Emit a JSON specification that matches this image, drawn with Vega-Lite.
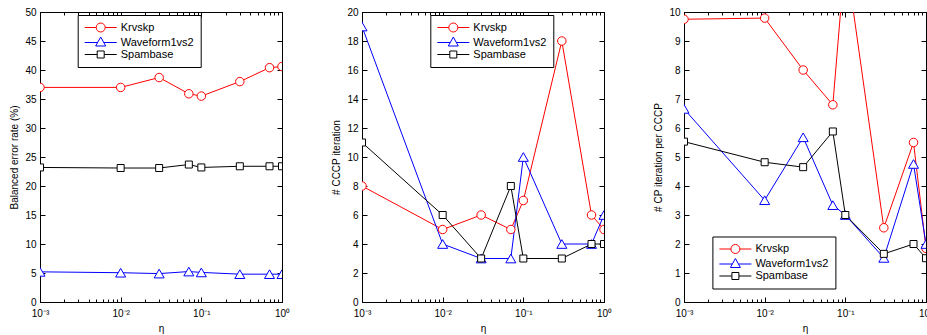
{
  "$schema": "https://vega.github.io/schema/vega-lite/v6.json",
  "padding": {"left": 9, "top": 6, "right": 0, "bottom": 0},
  "background": "white",
  "config": {
    "font": "Liberation Sans",
    "view": {"stroke": "black", "strokeWidth": 1},
    "axis": {"domainColor": "black", "tickColor": "black", "labelColor": "black", "titleColor": "black", "labelFont": "Liberation Sans", "titleFont": "Liberation Sans", "labelFontSize": 10, "titleFontSize": 10, "titleFontWeight": "normal", "grid": false, "tickWidth": 1, "domainWidth": 1, "labelOverlap": false, "labelFlush": false},
    "legend": {"title": null, "orient": "none", "strokeColor": "black", "fillColor": "white", "padding": 7, "symbolSize": 100, "symbolStrokeWidth": 1, "labelOffset": 25, "rowPadding": 0, "labelFontSize": 11, "labelFont": "Liberation Sans", "labelColor": "black", "symbolOpacity": 1}
  },
  "datasets": {
    "p1": [
      {"eta": 0.001, "series": "Krvskp", "value": 37.0},
      {"eta": 0.01, "series": "Krvskp", "value": 37.0},
      {"eta": 0.03, "series": "Krvskp", "value": 38.7},
      {"eta": 0.07, "series": "Krvskp", "value": 35.9},
      {"eta": 0.1, "series": "Krvskp", "value": 35.5},
      {"eta": 0.3, "series": "Krvskp", "value": 38.0},
      {"eta": 0.7, "series": "Krvskp", "value": 40.4},
      {"eta": 1, "series": "Krvskp", "value": 40.6},
      {"eta": 0.001, "series": "Waveform1vs2", "value": 5.2},
      {"eta": 0.01, "series": "Waveform1vs2", "value": 5.05},
      {"eta": 0.03, "series": "Waveform1vs2", "value": 4.9},
      {"eta": 0.07, "series": "Waveform1vs2", "value": 5.25},
      {"eta": 0.1, "series": "Waveform1vs2", "value": 5.1},
      {"eta": 0.3, "series": "Waveform1vs2", "value": 4.8},
      {"eta": 0.7, "series": "Waveform1vs2", "value": 4.8},
      {"eta": 1, "series": "Waveform1vs2", "value": 4.8},
      {"eta": 0.001, "series": "Spambase", "value": 23.2},
      {"eta": 0.01, "series": "Spambase", "value": 23.1},
      {"eta": 0.03, "series": "Spambase", "value": 23.1},
      {"eta": 0.07, "series": "Spambase", "value": 23.7},
      {"eta": 0.1, "series": "Spambase", "value": 23.2},
      {"eta": 0.3, "series": "Spambase", "value": 23.4},
      {"eta": 0.7, "series": "Spambase", "value": 23.4},
      {"eta": 1, "series": "Spambase", "value": 23.4}
    ],
    "p2": [
      {"eta": 0.001, "series": "Krvskp", "value": 8},
      {"eta": 0.01, "series": "Krvskp", "value": 5},
      {"eta": 0.03, "series": "Krvskp", "value": 6},
      {"eta": 0.07, "series": "Krvskp", "value": 5},
      {"eta": 0.1, "series": "Krvskp", "value": 7},
      {"eta": 0.3, "series": "Krvskp", "value": 18},
      {"eta": 0.7, "series": "Krvskp", "value": 6},
      {"eta": 1, "series": "Krvskp", "value": 5},
      {"eta": 0.001, "series": "Waveform1vs2", "value": 19},
      {"eta": 0.01, "series": "Waveform1vs2", "value": 4},
      {"eta": 0.03, "series": "Waveform1vs2", "value": 3},
      {"eta": 0.07, "series": "Waveform1vs2", "value": 3},
      {"eta": 0.1, "series": "Waveform1vs2", "value": 10},
      {"eta": 0.3, "series": "Waveform1vs2", "value": 4},
      {"eta": 0.7, "series": "Waveform1vs2", "value": 4},
      {"eta": 1, "series": "Waveform1vs2", "value": 6},
      {"eta": 0.001, "series": "Spambase", "value": 11},
      {"eta": 0.01, "series": "Spambase", "value": 6},
      {"eta": 0.03, "series": "Spambase", "value": 3},
      {"eta": 0.07, "series": "Spambase", "value": 8},
      {"eta": 0.1, "series": "Spambase", "value": 3},
      {"eta": 0.3, "series": "Spambase", "value": 3},
      {"eta": 0.7, "series": "Spambase", "value": 4},
      {"eta": 1, "series": "Spambase", "value": 4}
    ],
    "p3": [
      {"eta": 0.001, "series": "Krvskp", "value": 9.75},
      {"eta": 0.01, "series": "Krvskp", "value": 9.79},
      {"eta": 0.03, "series": "Krvskp", "value": 8.0},
      {"eta": 0.07, "series": "Krvskp", "value": 6.8},
      {"eta": 0.1, "series": "Krvskp", "value": 12},
      {"eta": 0.3, "series": "Krvskp", "value": 2.56},
      {"eta": 0.7, "series": "Krvskp", "value": 5.5},
      {"eta": 1, "series": "Krvskp", "value": 1.85},
      {"eta": 0.001, "series": "Waveform1vs2", "value": 6.66},
      {"eta": 0.01, "series": "Waveform1vs2", "value": 3.51},
      {"eta": 0.03, "series": "Waveform1vs2", "value": 5.68},
      {"eta": 0.07, "series": "Waveform1vs2", "value": 3.34},
      {"eta": 0.1, "series": "Waveform1vs2", "value": 3.0},
      {"eta": 0.3, "series": "Waveform1vs2", "value": 1.52},
      {"eta": 0.7, "series": "Waveform1vs2", "value": 4.76},
      {"eta": 1, "series": "Waveform1vs2", "value": 2.0},
      {"eta": 0.001, "series": "Spambase", "value": 5.53},
      {"eta": 0.01, "series": "Spambase", "value": 4.82},
      {"eta": 0.03, "series": "Spambase", "value": 4.65},
      {"eta": 0.07, "series": "Spambase", "value": 5.88},
      {"eta": 0.1, "series": "Spambase", "value": 3.0},
      {"eta": 0.3, "series": "Spambase", "value": 1.66},
      {"eta": 0.7, "series": "Spambase", "value": 2.0},
      {"eta": 1, "series": "Spambase", "value": 1.51}
    ]
  },
  "spacing": 80,
  "bounds": "flush",
  "resolve": {"scale": {"color": "independent", "shape": "independent", "x": "independent", "y": "independent"}, "legend": {"color": "independent", "shape": "independent"}},
  "hconcat": [
    {
      "width": 242, "height": 290,
      "data": {"name": "p1"},
      "resolve": {"axis": {"x": "independent", "y": "independent"}},
      "layer": [
        {
          "mark": {"type": "line", "strokeWidth": 1, "clip": true},
          "encoding": {
            "x": {"field": "eta", "type": "quantitative", "scale": {"type": "log", "domain": [0.001, 1]},
              "axis": {"orient": "bottom", "values": [0.001,0.002,0.003,0.004,0.005,0.006,0.007,0.008,0.009,0.01,0.02,0.03,0.04,0.05,0.06,0.07,0.08,0.09,0.1,0.2,0.3,0.4,0.5,0.6,0.7,0.8,0.9,1],
                "labelExpr": "datum.value == 0.001 ? '10⁻³' : datum.value == 0.01 ? '10⁻²' : datum.value == 0.1 ? '10⁻¹' : datum.value == 1 ? '10⁰' : ''",
                "tickSize": {"condition": {"test": "datum.value == 0.001 || datum.value == 0.01 || datum.value == 0.1 || datum.value == 1", "value": -5}, "value": -3},
                "labelPadding": 11, "title": "η", "titlePadding": 3}},
            "y": {"field": "value", "type": "quantitative", "scale": {"domain": [0, 50]},
              "axis": {"orient": "left", "values": [0,5,10,15,20,25,30,35,40,45,50], "tickSize": -5, "labelPadding": 9, "title": "Balanced error rate (%)", "titlePadding": 5}},
            "color": {"field": "series", "type": "nominal", "scale": {"domain": ["Krvskp", "Waveform1vs2", "Spambase"], "range": ["#ff0000", "#0000ff", "#000000"]}, "legend": {"orient": "none", "legendX": 37.7, "legendY": 3}}
          }
        },
        {
          "transform": [{"filter": "datum.series == 'Krvskp'"}],
          "mark": {"type": "point", "shape": "circle", "size": 72, "filled": true, "fill": "white", "stroke": "#ff0000", "strokeWidth": 1, "opacity": 1, "clip": true},
          "encoding": {
            "x": {"field": "eta", "type": "quantitative",
              "axis": {"orient": "top", "values": [0.001,0.002,0.003,0.004,0.005,0.006,0.007,0.008,0.009,0.01,0.02,0.03,0.04,0.05,0.06,0.07,0.08,0.09,0.1,0.2,0.3,0.4,0.5,0.6,0.7,0.8,0.9,1], "labels": false, "title": null,
                "tickSize": {"condition": {"test": "datum.value == 0.001 || datum.value == 0.01 || datum.value == 0.1 || datum.value == 1", "value": -5}, "value": -3}}},
            "y": {"field": "value", "type": "quantitative", "axis": {"orient": "right", "values": [0,5,10,15,20,25,30,35,40,45,50], "labels": false, "title": null, "tickSize": -5}}
          }
        },
        {
          "transform": [{"filter": "datum.series == 'Waveform1vs2'"}],
          "mark": {"type": "point", "shape": "triangle-up", "size": 100, "filled": true, "fill": "white", "stroke": "#0000ff", "strokeWidth": 1, "opacity": 1, "clip": true},
          "encoding": {
            "x": {"field": "eta", "type": "quantitative", "axis": null},
            "y": {"field": "value", "type": "quantitative", "axis": null}
          }
        },
        {
          "transform": [{"filter": "datum.series == 'Spambase'"}],
          "mark": {"type": "point", "shape": "square", "size": 49, "filled": true, "fill": "white", "stroke": "#000000", "strokeWidth": 1, "opacity": 1, "clip": true},
          "encoding": {
            "x": {"field": "eta", "type": "quantitative", "axis": null},
            "y": {"field": "value", "type": "quantitative", "axis": null}
          }
        },
        {
          "transform": [{"filter": "false"}],
          "mark": {"type": "point", "filled": false, "strokeWidth": 1},
          "encoding": {
            "x": {"field": "eta", "type": "quantitative", "axis": null},
            "y": {"field": "value", "type": "quantitative", "axis": null},
            "color": {"field": "series", "type": "nominal", "scale": {"domain": ["Krvskp", "Waveform1vs2", "Spambase"], "range": ["#ff0000", "#0000ff", "#000000"]}, "legend": {"orient": "none", "legendX": 37.7, "legendY": 3}},
            "shape": {"field": "series", "type": "nominal", "scale": {"domain": ["Krvskp", "Waveform1vs2", "Spambase"], "range": ["M-1.1,0H1.2M3,0H5.3M1.2,0A0.9,0.9 0 1,0 3,0A0.9,0.9 0 1,0 1.2,0Z", "M-1.1,0H1.49M2.71,0H5.3M2.1,-1.1L3.1,0.7L1.1,0.7Z", "M-1.1,0H1.4M2.8,0H5.3M1.4,-0.7H2.8V0.7H1.4Z"]}, "legend": {"orient": "none", "legendX": 37.7, "legendY": 3}}
          }
        }
      ]
    },
    {
      "width": 242, "height": 290,
      "data": {"name": "p2"},
      "resolve": {"axis": {"x": "independent", "y": "independent"}},
      "layer": [
        {
          "mark": {"type": "line", "strokeWidth": 1, "clip": true},
          "encoding": {
            "x": {"field": "eta", "type": "quantitative", "scale": {"type": "log", "domain": [0.001, 1]},
              "axis": {"orient": "bottom", "values": [0.001,0.002,0.003,0.004,0.005,0.006,0.007,0.008,0.009,0.01,0.02,0.03,0.04,0.05,0.06,0.07,0.08,0.09,0.1,0.2,0.3,0.4,0.5,0.6,0.7,0.8,0.9,1],
                "labelExpr": "datum.value == 0.001 ? '10⁻³' : datum.value == 0.01 ? '10⁻²' : datum.value == 0.1 ? '10⁻¹' : datum.value == 1 ? '10⁰' : ''",
                "tickSize": {"condition": {"test": "datum.value == 0.001 || datum.value == 0.01 || datum.value == 0.1 || datum.value == 1", "value": -5}, "value": -3},
                "labelPadding": 11, "title": "η", "titlePadding": 3}},
            "y": {"field": "value", "type": "quantitative", "scale": {"domain": [0, 20]},
              "axis": {"orient": "left", "values": [0,2,4,6,8,10,12,14,16,18,20], "tickSize": -5, "labelPadding": 9, "title": "# CCCP iteration", "titlePadding": 5}},
            "color": {"field": "series", "type": "nominal", "scale": {"domain": ["Krvskp", "Waveform1vs2", "Spambase"], "range": ["#ff0000", "#0000ff", "#000000"]}, "legend": {"orient": "none", "legendX": 68.3, "legendY": 3}}
          }
        },
        {
          "transform": [{"filter": "datum.series == 'Krvskp'"}],
          "mark": {"type": "point", "shape": "circle", "size": 72, "filled": true, "fill": "white", "stroke": "#ff0000", "strokeWidth": 1, "opacity": 1, "clip": true},
          "encoding": {
            "x": {"field": "eta", "type": "quantitative",
              "axis": {"orient": "top", "values": [0.001,0.002,0.003,0.004,0.005,0.006,0.007,0.008,0.009,0.01,0.02,0.03,0.04,0.05,0.06,0.07,0.08,0.09,0.1,0.2,0.3,0.4,0.5,0.6,0.7,0.8,0.9,1], "labels": false, "title": null,
                "tickSize": {"condition": {"test": "datum.value == 0.001 || datum.value == 0.01 || datum.value == 0.1 || datum.value == 1", "value": -5}, "value": -3}}},
            "y": {"field": "value", "type": "quantitative", "axis": {"orient": "right", "values": [0,2,4,6,8,10,12,14,16,18,20], "labels": false, "title": null, "tickSize": -5}}
          }
        },
        {
          "transform": [{"filter": "datum.series == 'Waveform1vs2'"}],
          "mark": {"type": "point", "shape": "triangle-up", "size": 100, "filled": true, "fill": "white", "stroke": "#0000ff", "strokeWidth": 1, "opacity": 1, "clip": true},
          "encoding": {
            "x": {"field": "eta", "type": "quantitative", "axis": null},
            "y": {"field": "value", "type": "quantitative", "axis": null}
          }
        },
        {
          "transform": [{"filter": "datum.series == 'Spambase'"}],
          "mark": {"type": "point", "shape": "square", "size": 49, "filled": true, "fill": "white", "stroke": "#000000", "strokeWidth": 1, "opacity": 1, "clip": true},
          "encoding": {
            "x": {"field": "eta", "type": "quantitative", "axis": null},
            "y": {"field": "value", "type": "quantitative", "axis": null}
          }
        },
        {
          "transform": [{"filter": "false"}],
          "mark": {"type": "point", "filled": false, "strokeWidth": 1},
          "encoding": {
            "x": {"field": "eta", "type": "quantitative", "axis": null},
            "y": {"field": "value", "type": "quantitative", "axis": null},
            "color": {"field": "series", "type": "nominal", "scale": {"domain": ["Krvskp", "Waveform1vs2", "Spambase"], "range": ["#ff0000", "#0000ff", "#000000"]}, "legend": {"orient": "none", "legendX": 68.3, "legendY": 3}},
            "shape": {"field": "series", "type": "nominal", "scale": {"domain": ["Krvskp", "Waveform1vs2", "Spambase"], "range": ["M-1.1,0H1.2M3,0H5.3M1.2,0A0.9,0.9 0 1,0 3,0A0.9,0.9 0 1,0 1.2,0Z", "M-1.1,0H1.49M2.71,0H5.3M2.1,-1.1L3.1,0.7L1.1,0.7Z", "M-1.1,0H1.4M2.8,0H5.3M1.4,-0.7H2.8V0.7H1.4Z"]}, "legend": {"orient": "none", "legendX": 68.3, "legendY": 3}}
          }
        }
      ]
    },
    {
      "width": 242, "height": 290,
      "data": {"name": "p3"},
      "resolve": {"axis": {"x": "independent", "y": "independent"}},
      "layer": [
        {
          "mark": {"type": "line", "strokeWidth": 1, "clip": true},
          "encoding": {
            "x": {"field": "eta", "type": "quantitative", "scale": {"type": "log", "domain": [0.001, 1]},
              "axis": {"orient": "bottom", "values": [0.001,0.002,0.003,0.004,0.005,0.006,0.007,0.008,0.009,0.01,0.02,0.03,0.04,0.05,0.06,0.07,0.08,0.09,0.1,0.2,0.3,0.4,0.5,0.6,0.7,0.8,0.9,1],
                "labelExpr": "datum.value == 0.001 ? '10⁻³' : datum.value == 0.01 ? '10⁻²' : datum.value == 0.1 ? '10⁻¹' : datum.value == 1 ? '10⁰' : ''",
                "tickSize": {"condition": {"test": "datum.value == 0.001 || datum.value == 0.01 || datum.value == 0.1 || datum.value == 1", "value": -5}, "value": -3},
                "labelPadding": 11, "title": "η", "titlePadding": 3}},
            "y": {"field": "value", "type": "quantitative", "scale": {"domain": [0, 10]},
              "axis": {"orient": "left", "values": [0,1,2,3,4,5,6,7,8,9,10], "tickSize": -5, "labelPadding": 9, "title": "# CP iteration per CCCP", "titlePadding": 5}},
            "color": {"field": "series", "type": "nominal", "scale": {"domain": ["Krvskp", "Waveform1vs2", "Spambase"], "range": ["#ff0000", "#0000ff", "#000000"]}, "legend": {"orient": "none", "legendX": 28.4, "legendY": 224.5}}
          }
        },
        {
          "transform": [{"filter": "datum.series == 'Krvskp'"}],
          "mark": {"type": "point", "shape": "circle", "size": 72, "filled": true, "fill": "white", "stroke": "#ff0000", "strokeWidth": 1, "opacity": 1, "clip": true},
          "encoding": {
            "x": {"field": "eta", "type": "quantitative",
              "axis": {"orient": "top", "values": [0.001,0.002,0.003,0.004,0.005,0.006,0.007,0.008,0.009,0.01,0.02,0.03,0.04,0.05,0.06,0.07,0.08,0.09,0.1,0.2,0.3,0.4,0.5,0.6,0.7,0.8,0.9,1], "labels": false, "title": null,
                "tickSize": {"condition": {"test": "datum.value == 0.001 || datum.value == 0.01 || datum.value == 0.1 || datum.value == 1", "value": -5}, "value": -3}}},
            "y": {"field": "value", "type": "quantitative", "axis": {"orient": "right", "values": [0,1,2,3,4,5,6,7,8,9,10], "labels": false, "title": null, "tickSize": -5}}
          }
        },
        {
          "transform": [{"filter": "datum.series == 'Waveform1vs2'"}],
          "mark": {"type": "point", "shape": "triangle-up", "size": 100, "filled": true, "fill": "white", "stroke": "#0000ff", "strokeWidth": 1, "opacity": 1, "clip": true},
          "encoding": {
            "x": {"field": "eta", "type": "quantitative", "axis": null},
            "y": {"field": "value", "type": "quantitative", "axis": null}
          }
        },
        {
          "transform": [{"filter": "datum.series == 'Spambase'"}],
          "mark": {"type": "point", "shape": "square", "size": 49, "filled": true, "fill": "white", "stroke": "#000000", "strokeWidth": 1, "opacity": 1, "clip": true},
          "encoding": {
            "x": {"field": "eta", "type": "quantitative", "axis": null},
            "y": {"field": "value", "type": "quantitative", "axis": null}
          }
        },
        {
          "transform": [{"filter": "false"}],
          "mark": {"type": "point", "filled": false, "strokeWidth": 1},
          "encoding": {
            "x": {"field": "eta", "type": "quantitative", "axis": null},
            "y": {"field": "value", "type": "quantitative", "axis": null},
            "color": {"field": "series", "type": "nominal", "scale": {"domain": ["Krvskp", "Waveform1vs2", "Spambase"], "range": ["#ff0000", "#0000ff", "#000000"]}, "legend": {"orient": "none", "legendX": 28.4, "legendY": 224.5}},
            "shape": {"field": "series", "type": "nominal", "scale": {"domain": ["Krvskp", "Waveform1vs2", "Spambase"], "range": ["M-1.1,0H1.2M3,0H5.3M1.2,0A0.9,0.9 0 1,0 3,0A0.9,0.9 0 1,0 1.2,0Z", "M-1.1,0H1.49M2.71,0H5.3M2.1,-1.1L3.1,0.7L1.1,0.7Z", "M-1.1,0H1.4M2.8,0H5.3M1.4,-0.7H2.8V0.7H1.4Z"]}, "legend": {"orient": "none", "legendX": 28.4, "legendY": 224.5}}
          }
        }
      ]
    }
  ]
}
